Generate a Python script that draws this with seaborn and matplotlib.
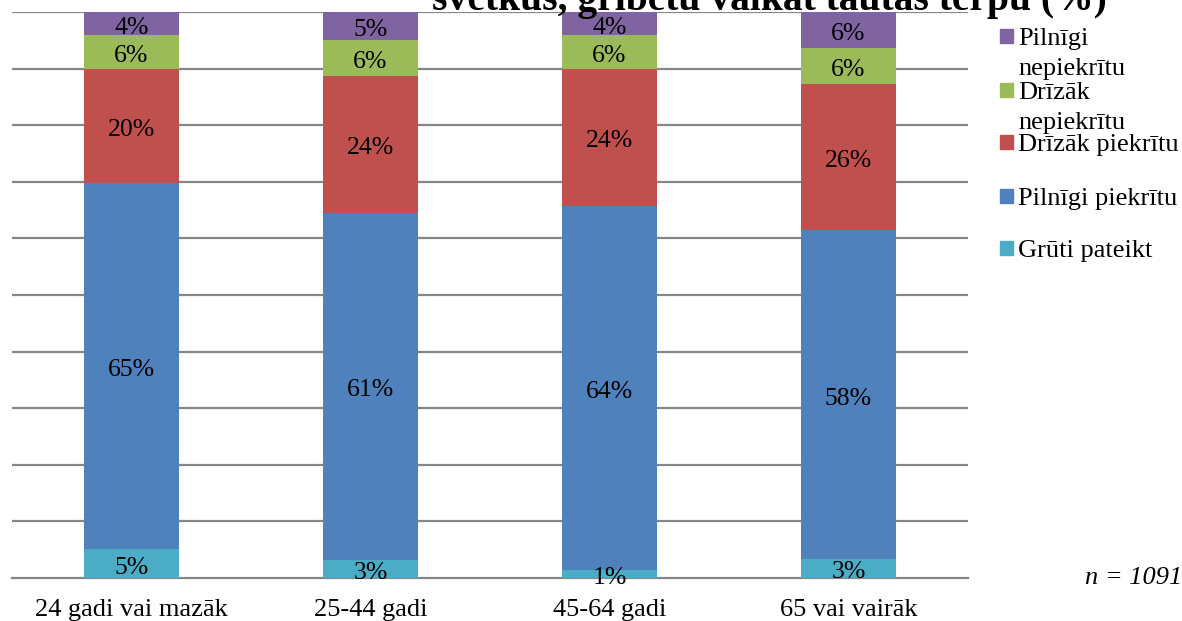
import pandas as pd
import matplotlib.pyplot as plt
import seaborn as sns
from matplotlib.patches import Rectangle

# age groups and shares (%), bottom -> top of each bar
groups = ['24 gadi vai mazāk', '25-44 gadi', '45-64 gadi', '65 vai vairāk']
gruti = [5.1, 3.2, 1.4, 3.4]
pilnigi_piekr = [64.7, 61.3, 64.4, 58.0]
drizak_piekr = [20.1, 24.2, 24.1, 25.8]
drizak_nepiekr = [6.0, 6.4, 6.0, 6.4]
pilnigi_nepiekr = [4.1, 4.9, 4.1, 6.4]

series = ['Grūti pateikt', 'Pilnīgi piekrītu', 'Drīzāk piekrītu',
          'Drīzāk nepiekrītu', 'Pilnīgi nepiekrītu']
legend_labels = ['Grūti pateikt', 'Pilnīgi piekrītu', 'Drīzāk piekrītu',
                 'Drīzāk\nnepiekrītu', 'Pilnīgi\nnepiekrītu']
colors = ['#4BACC6', '#4F81BD', '#C0504D', '#9BBB59', '#8064A2']

df = pd.DataFrame({'group': groups, series[0]: gruti, series[1]: pilnigi_piekr,
                   series[2]: drizak_piekr, series[3]: drizak_nepiekr,
                   series[4]: pilnigi_nepiekr})
cum = df[series].cumsum(axis=1)

sns.set_style('white')
plt.rcParams['font.family'] = ['Liberation Serif', 'DejaVu Serif']
plt.rcParams['text.color'] = 'black'
plt.rcParams['xtick.color'] = 'black'

fig = plt.figure(figsize=(11.82, 6.21), dpi=100)
ax = fig.add_axes([12/1182, 1 - 578/621, (968 - 12)/1182, (578 - 12)/621])

# stacked bars: draw the cumulative totals from top segment down
for s, c in zip(series[::-1], colors[::-1]):
    sns.barplot(x=df['group'], y=cum[s], color=c, width=0.4, saturation=1,
                edgecolor='none', ax=ax, zorder=3)

# segment labels (sit a touch below the centre, like the original)
for i in range(len(groups)):
    for s in series:
        val = df.loc[i, s]
        mid = cum.loc[i, s] - val / 2 - 0.7
        ax.text(i, mid, f'{val:.0f}%', ha='center', va='center',
                fontsize=18.5, color='black', zorder=4)

ax.set_ylim(0, 100)
ax.set_xlim(-0.5, 3.5)
ax.set_yticks(range(10, 101, 10))
ax.yaxis.grid(True, color='#868686', linewidth=1.6)
ax.tick_params(axis='y', left=False, labelleft=False)
ax.set_xlabel('')
ax.set_ylabel('')
for side in ['top', 'right', 'left']:
    ax.spines[side].set_visible(False)
ax.spines['bottom'].set_color('#868686')
ax.spines['bottom'].set_linewidth(1.6)
ax.set_xticks([-0.5, 0.5, 1.5, 2.5, 3.5], minor=True)
ax.tick_params(axis='x', which='major', length=0, labelsize=19, pad=15,
               labelcolor='black')
ax.tick_params(axis='x', which='minor', length=12, width=1.2, color='#868686')

# legend drawn by hand (wrapped labels overlap like in the original)
leg_y = [248, 196, 142, 90, 36]
for lab, c, y in zip(legend_labels, colors, leg_y):
    fig.patches.append(Rectangle((1000/1182, 1 - (y + 7)/621), 13/1182, 14/621,
                                 transform=fig.transFigure, color=c))
    fig.text(1018/1182, 1 - (y - 8)/621, lab, ha='left', va='top',
             fontsize=19, linespacing=1.45)

fig.text(769/1182, 1 - 10/621, 'svētkus, gribētu valkāt tautas tērpu (%)',
         ha='center', va='baseline', fontsize=28.5, fontweight='bold')
fig.text(1182/1182, 1 - 578/621, 'n = 1091', ha='right', va='center',
         fontsize=19, style='italic')

fig.savefig('out.png', dpi=100)
